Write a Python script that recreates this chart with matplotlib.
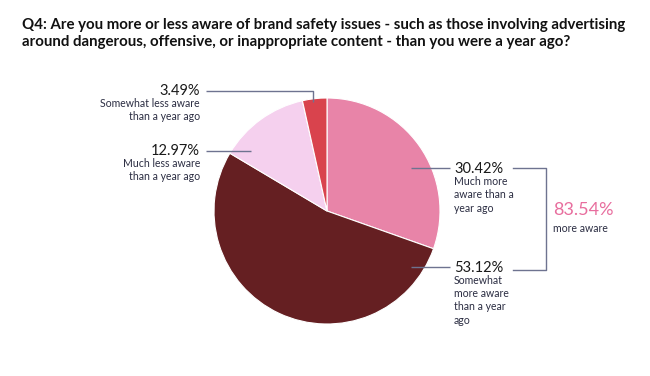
import matplotlib
matplotlib.use("Agg")
import matplotlib.pyplot as plt

title = ("Q4: Are you more or less aware of brand safety issues - such as those involving advertising\n"
         "around dangerous, offensive, or inappropriate content - than you were a year ago?")

shares = [30.42, 53.12, 12.97, 3.49]
descriptions = [
    "Much more\naware than a\nyear ago",
    "Somewhat\nmore aware\nthan a year\nago",
    "Much less aware\nthan a year ago",
    "Somewhat less aware\nthan a year ago",
]
colors = ["#E884A8", "#651F22", "#F5D0EE", "#D9434D"]
more_aware = shares[0] + shares[1]

W, H = 650, 376
fig = plt.figure(figsize=(W / 100, H / 100), dpi=100)
ax = fig.add_axes([0, 0, 1, 1])

def y(py):
    # pixel row (from top) -> data y
    return H - py

ax.pie(shares, colors=colors, startangle=90, counterclock=False,
       center=(327, y(211)), radius=113,
       wedgeprops=dict(linewidth=0.8, edgecolor="white"))
ax.set_xlim(0, W)
ax.set_ylim(0, H)
ax.set_aspect("equal")
ax.axis("off")

t = fig.text(22 / W, 1 - 18 / H, title, ha="left", va="top", fontsize=10.5,
             fontweight="bold", family="Lato", color="#111111", linespacing=1.25)
# fit the title to the same width as the reference (about 605 px)
r = fig.canvas.get_renderer()
t.set_fontsize(10.5 * 605 / t.get_window_extent(r).width)

navy = "#2B2D42"
line_c = "#6E7390"
pct_font = dict(family="Lato", fontsize=10.5, color="#1a1a1a")
desc_font = dict(family="Lato", fontsize=7.6, color=navy, linespacing=1.25)

# (x, y of percent, alignment, leader line points)
layout = [
    (454, 169, "left", [(411, 168), (450, 168)]),
    (454, 268, "left", [(411, 267), (450, 267)]),
    (200, 151, "right", [(251, 151), (206, 151)]),
    (200, 91, "right", [(313, 102), (313, 91), (206, 91)]),
]

for share, desc, (lx, ly, ha, pts) in zip(shares, descriptions, layout):
    ax.text(lx, y(ly), f"{share:.2f}%", ha=ha, va="center", **pct_font)
    ax.text(lx, y(ly + 7), desc, ha=ha, va="top", **desc_font)
    xs, ys = zip(*pts)
    ax.plot(xs, [y(v) for v in ys], color=line_c, lw=1.0, solid_capstyle="butt")

# bracket grouping the two "more aware" answers
ax.plot([513, 546, 546, 513], [y(168), y(168), y(270), y(270)],
        color=line_c, lw=1.0)
ax.text(553, y(210), f"{more_aware:.2f}%", ha="left", va="center",
        family="Lato", fontsize=13, color="#E86E9E")
ax.text(553, y(223), "more aware", ha="left", va="top", **desc_font)

fig.savefig("out.png", dpi=100)
